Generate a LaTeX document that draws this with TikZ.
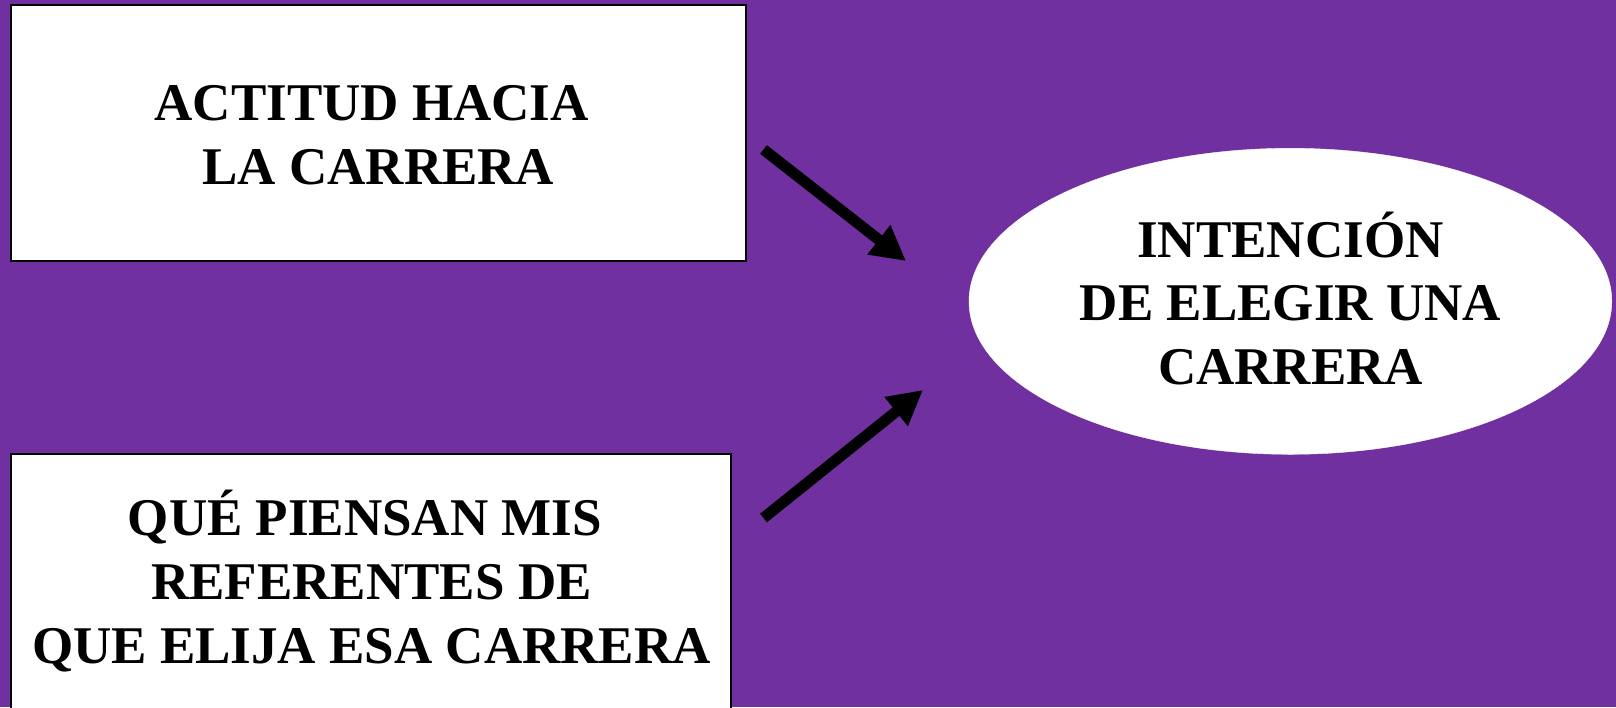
\documentclass[tikz,border=0pt]{standalone}
\usepackage{fontspec}
\newfontfamily\diagfont{Liberation Serif Bold}[Kerning=Off]
\usetikzlibrary{arrows.meta,shapes.geometric}
\definecolor{bgpurple}{RGB}{112,48,160}
\begin{document}
\begin{tikzpicture}[x=1pt,y=-1pt,
  panel/.style={draw=black, line width=1.6pt, fill=white, inner sep=0pt},
  oval/.style={ellipse, draw=white, fill=white, inner sep=0pt},
  lbl/.style={font=\diagfont\fontsize{53}{63.6}\selectfont, align=center, inner sep=0pt, text=black},
  bigarrow/.style={line width=11pt, draw=black, -{Triangle[length=34.5pt,width=35pt]}}]
\useasboundingbox (0,0) rectangle (1616,707);
\clip (0,0) rectangle (1616,707);
\fill[bgpurple] (0,0) rectangle (1616,707);
% boxes
\node[panel, minimum width=735.3pt, minimum height=255.7pt] (att) at (378.35,132.85) {};
\node[panel, minimum width=720.3pt, minimum height=266pt] (ref) at (370.85,587) {};
\node[oval, minimum width=642.8pt, minimum height=306pt] (int) at (1290.4,301.3) {};
% labels
\node[lbl] (attT) at (378.3,135.5) {ACTITUD HACIA\hspace*{.25em}\\LA CARRERA};
\node[lbl] (refT) at (371.5,581) {QUÉ PIENSAN MIS\hspace*{.25em}\\REFERENTES DE\hspace*{.25em}\\QUE ELIJA ESA CARRERA};
\node[lbl] (intT) at (1290.5,298.5) {INTENCIÓN\\DE ELEGIR UNA\hspace*{.25em}\\CARRERA};
% arrow ends
\coordinate (a1s) at (763.5,149.5);
\coordinate (a1e) at (906,261);
\coordinate (a2s) at (763.5,518);
\coordinate (a2e) at (923,390);
\draw[bigarrow] (a1s) -- (a1e);
\draw[bigarrow] (a2s) -- (a2e);
\end{tikzpicture}
\end{document}
